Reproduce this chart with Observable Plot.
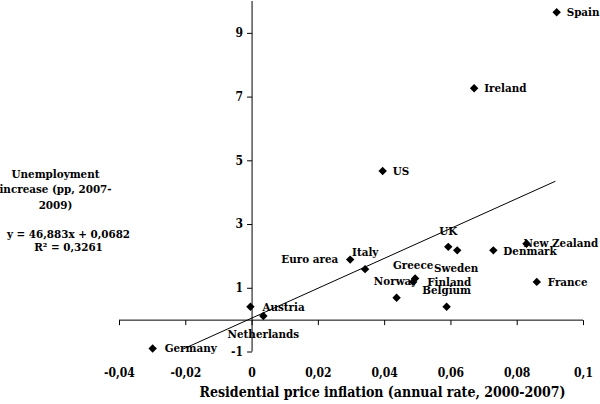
<!DOCTYPE html>
<html>
<head>
<meta charset="utf-8">
<script src="https://cdn.jsdelivr.net/npm/d3@7"></script>
<script src="https://cdn.jsdelivr.net/npm/@observablehq/plot@0.6"></script>
<style>
  html, body { margin: 0; padding: 0; background: #fff; }
  #chart svg { display: block; }
</style>
</head>
<body>
<div id="chart"></div>
<script>
// ---- data ----
const countries = ["Spain", "Ireland", "US", "UK", "Sweden", "Denmark", "New Zealand", "France",
  "Euro area", "Italy", "Greece", "Finland", "Norway", "Belgium", "Austria", "Netherlands", "Germany"];
const priceInflation = [0.0919, 0.0670, 0.0394, 0.0592, 0.0619, 0.0728, 0.0828, 0.0859,
  0.0296, 0.0341, 0.0492, 0.0486, 0.0436, 0.0587, -0.0005, 0.0034, -0.0300];
const unemploymentIncrease = [9.66, 7.28, 4.68, 2.30, 2.19, 2.19, 2.40, 1.20,
  1.90, 1.60, 1.31, 1.20, 0.70, 0.42, 0.42, 0.13, -0.89];

const xTicks = [-0.04, -0.02, 0, 0.02, 0.04, 0.06, 0.08, 0.1];
const yTicks = [-1, 1, 3, 5, 7, 9];

// regression shown in chart: y = 46,883x + 0,0682
const slope = 46.883, intercept = 0.0682;
const trendXExtent = [-0.0207, 0.0914];

// ---- label placement (layout only) ----
const labelPlacement = {
  "Spain": {anchor: "start", dx: 10, dy: 0},
  "Ireland": {anchor: "start", dx: 10, dy: 0},
  "US": {anchor: "start", dx: 10, dy: 0},
  "UK": {anchor: "middle", dx: 0, dy: -16},
  "Sweden": {anchor: "middle", dx: -1, dy: 18},
  "Denmark": {anchor: "start", dx: 10, dy: 1},
  "New Zealand": {anchor: "start", dx: -3, dy: 0},
  "France": {anchor: "start", dx: 11, dy: 0},
  "Euro area": {anchor: "end", dx: -12, dy: 0},
  "Italy": {anchor: "start", dx: -13, dy: -17},
  "Greece": {anchor: "middle", dx: -2, dy: -13},
  "Finland": {anchor: "start", dx: 14, dy: 0},
  "Norway": {anchor: "middle", dx: -1, dy: -17},
  "Belgium": {anchor: "middle", dx: 0, dy: -16},
  "Austria": {anchor: "start", dx: 12, dy: 1},
  "Netherlands": {anchor: "middle", dx: 0, dy: 18},
  "Germany": {anchor: "start", dx: 12, dy: 0}
};

const data = countries.map((c, i) => ({country: c, x: priceInflation[i], y: unemploymentIncrease[i]}));
const trend = trendXExtent.map(x => ({x, y: slope * x + intercept}));
const fmt = v => String(v).replace(".", ",");

const serif = "DejaVu Serif Condensed, DejaVu Serif, serif";
const txt = {fontFamily: serif, fontWeight: "bold", fill: "black"};

const tickDown = {draw(ctx) { ctx.moveTo(0, 0); ctx.lineTo(0, 5); }};
const tickLeft = {draw(ctx) { ctx.moveTo(0, 0); ctx.lineTo(-5, 0); }};

const labelMarks = data.map(d => Plot.text([d], {
  x: "x", y: "y", text: "country", textAnchor: labelPlacement[d.country].anchor,
  dx: labelPlacement[d.country].dx, dy: labelPlacement[d.country].dy, ...txt, fontSize: 11.5
}));

const chart = Plot.plot({
  width: 600,
  height: 404,
  marginLeft: 119,
  marginRight: 17,
  marginTop: 1,
  marginBottom: 52.5,
  x: {domain: [-0.04, 0.1], axis: null},
  y: {domain: [-1, 10], axis: null},
  style: {background: "white", color: "black"},
  marks: [
    // axes lines
    Plot.ruleY([0], {x1: -0.04, x2: 0.1, stroke: "black", strokeWidth: 1}),
    Plot.ruleX([0], {y1: -1, y2: 10, stroke: "black", strokeWidth: 1}),
    Plot.dot(xTicks, {x: d => d, y: 0, symbol: tickDown, stroke: "black", strokeWidth: 1}),
    Plot.dot(yTicks, {x: 0, y: d => d, symbol: tickLeft, stroke: "black", strokeWidth: 1}),
    Plot.text(xTicks, {x: d => d, y: -1, dy: 21, text: d => fmt(d), ...txt, fontSize: 12}),
    Plot.text(yTicks, {x: 0, y: d => d, dx: -9, textAnchor: "end", text: d => fmt(d), ...txt, fontSize: 12}),
    // trend line
    Plot.line(trend, {x: "x", y: "y", stroke: "black", strokeWidth: 1}),
    // points
    Plot.dot(data, {x: "x", y: "y", symbol: "diamond2", r: 3.8, fill: "black"}),
    ...labelMarks,
    // titles
    Plot.text(["Unemployment\nincrease (pp, 2007-\n2009)"], {
      frameAnchor: "top-left", dx: -64, dy: 165, text: d => d, lineHeight: 1.35, textAnchor: "middle",
      ...txt, fontSize: 11.5
    }),
    Plot.text(["y = 46,883x + 0,0682\nR² = 0,3261"], {
      frameAnchor: "top-left", dx: -51, dy: 226.5, text: d => d, lineHeight: 1.18, textAnchor: "middle",
      ...txt, fontSize: 11.5
    }),
    Plot.text(["Residential price inflation (annual rate, 2000-2007)"], {
      frameAnchor: "bottom", dx: 31, dy: 45, text: d => d, ...txt, fontSize: 14
    })
  ]
});

document.getElementById("chart").appendChild(chart);
</script>
</body>
</html>
